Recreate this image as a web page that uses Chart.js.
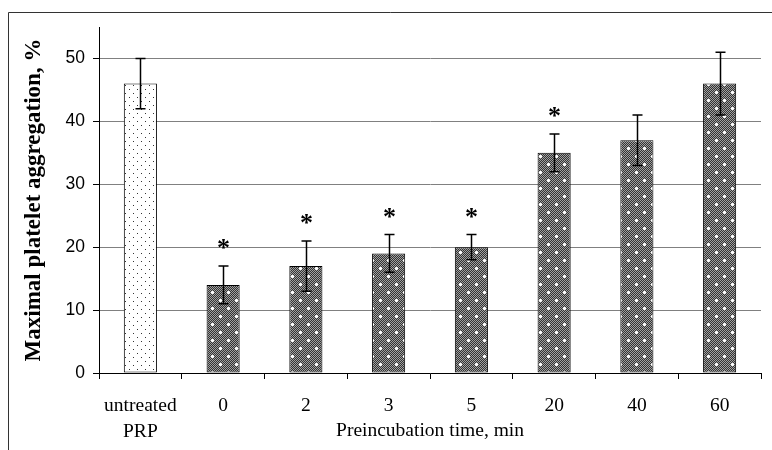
<!DOCTYPE html>
<html>
<head>
<meta charset="utf-8">
<script src="https://cdn.jsdelivr.net/npm/chart.js@4.4.1/dist/chart.umd.min.js"></script>
<style>
html,body{margin:0;padding:0;background:#fff;}
#wrap{position:relative;width:772px;height:450px;}
</style>
</head>
<body>
<div id="wrap"><canvas id="c" width="772" height="450"></canvas></div>
<script>
// ===== DATA =====
const CATEGORIES=[['untreated','PRP'],'0','2','3','5','20','40','60'];
const MEANS=[46,14,17,19,20,35,37,46];
const ERR_LOW=[42,11,13,16,18,32,33,41];
const ERR_HIGH=[50,17,21,22,22,38,41,51];
const SIGNIF=[false,true,true,true,true,true,false,false];
const Y_TICKS=[0,10,20,30,40,50];

// ===== PATTERNS =====
function dotPattern(){
  const c=document.createElement('canvas');c.width=8;c.height=8;
  const g=c.getContext('2d');
  g.fillStyle='#fff';g.fillRect(0,0,8,8);
  g.fillStyle='#333';
  g.fillRect(1,1,1,1);g.fillRect(5,5,1,1);
  return g.createPattern(c,'repeat');
}
function checkPattern(){
  const n=16;
  const c=document.createElement('canvas');c.width=n;c.height=n;
  const g=c.getContext('2d');
  for(let i=0;i<n;i++)for(let j=0;j<n;j++){g.fillStyle=(i+j)%2?'#333':'#a0a0a0';g.fillRect(i,j,1,1);}
  function cross(x,y){
    g.fillStyle='#ddd';g.fillRect(x-1,y-1,3,3);
    g.fillStyle='#fff';g.fillRect(x,y-1,1,3);g.fillRect(x-1,y,3,1);
  }
  cross(4,4);cross(12,12);
  return g.createPattern(c,'repeat');
}
const PAT_DOT=dotPattern(),PAT_CHECK=checkPattern();

// ===== PLUGINS =====
const frame={id:'frame',beforeDraw(chart){
  const ctx=chart.ctx;ctx.save();ctx.strokeStyle='#333';ctx.lineWidth=1;
  ctx.beginPath();ctx.moveTo(8.5,450);ctx.lineTo(8.5,12.5);ctx.lineTo(chart.width,12.5);ctx.stroke();ctx.restore();
}};
const errBars={id:'errBars',afterDatasetsDraw(chart){
  const ctx=chart.ctx,y=chart.scales.y;
  const meta=chart.getDatasetMeta(0);
  ctx.save();ctx.strokeStyle='#000';ctx.lineWidth=1.5;
  meta.data.forEach((bar,i)=>{
    const xc=Math.round(bar.x)+0.5,yl=y.getPixelForValue(ERR_LOW[i]),yh=y.getPixelForValue(ERR_HIGH[i]);
    ctx.beginPath();
    ctx.moveTo(xc,yl);ctx.lineTo(xc,yh);
    ctx.moveTo(xc-5,yl);ctx.lineTo(xc+5,yl);
    ctx.moveTo(xc-5,yh);ctx.lineTo(xc+5,yh);
    ctx.stroke();
    if(SIGNIF[i]){
      ctx.fillStyle='#000';ctx.font='bold 26px "Liberation Serif"';ctx.textAlign='center';ctx.textBaseline='alphabetic';
      ctx.fillText('*',xc,yh-10);
    }
  });
  ctx.restore();
}};

// ===== CHART =====
new Chart(document.getElementById('c'),{
  type:'bar',
  data:{labels:CATEGORIES,datasets:[{
    data:MEANS,
    backgroundColor:MEANS.map((v,i)=>i===0?PAT_DOT:PAT_CHECK),
    borderColor:'#000',borderWidth:1,borderSkipped:false,
    barPercentage:0.4,categoryPercentage:1
  }]},
  options:{
    responsive:false,animation:false,
    layout:{padding:{left:0,top:27,right:11,bottom:0}},
    plugins:{legend:{display:false},tooltip:{enabled:false}},
    scales:{
      x:{
        grid:{offset:true,drawOnChartArea:false,tickLength:6,color:'#000'},
        border:{color:'#000'},
        ticks:{color:'#000',font:{family:'Liberation Serif',size:19.5,lineHeight:1.33},padding:14,maxRotation:0,autoSkip:false},
        title:{display:true,text:'Preincubation time, min',color:'#000',font:{family:'Liberation Serif',size:19.5},padding:{top:0,bottom:7}},
        afterFit:s=>{s.height=77}
      },
      y:{
        min:0,max:55,
        afterBuildTicks:s=>{s.ticks=Y_TICKS.map(v=>({value:v}))},
        grid:{color:'#808080',tickColor:'#000',tickLength:6},
        border:{color:'#000'},
        ticks:{color:'#000',font:{family:'Liberation Sans',size:17.5},padding:8},
        title:{display:true,text:'Maximal platelet aggregation, %',color:'#000',font:{family:'Liberation Serif',size:23,weight:'bold'},padding:{top:20,bottom:0}},
        afterFit:s=>{s.width=99}
      }
    }
  },
  plugins:[frame,errBars]
});
</script>
</body>
</html>
